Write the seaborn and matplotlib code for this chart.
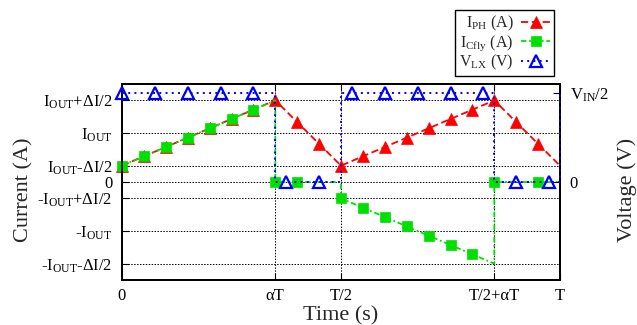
import matplotlib
matplotlib.use("Agg")
import matplotlib.pyplot as plt
from matplotlib.lines import Line2D
import pandas as pd
import seaborn as sns

# Switching period and sample step (time axis in units of T)
PERIOD = 1.0
STEP = PERIOD / 20

# Phase inductor current, one sample per T/20
t_ph = [0, 1, 2, 3, 4, 5, 6, 7, 8, 9, 10, 11, 12, 13, 14, 15, 16, 17, 18, 19, 20]
i_ph = [0.5, 0.786, 1.071, 1.357, 1.643, 1.929, 2.214, 2.5, 1.833, 1.167, 0.5,
        0.786, 1.071, 1.357, 1.643, 1.929, 2.214, 2.5, 1.833, 1.167, 0.5]
ph_marks = list(range(20))

# Flying capacitor current (repeated times = vertical steps)
t_cfly = [0, 1, 2, 3, 4, 5, 6, 7, 7, 8, 9, 10, 10, 11, 12, 13, 14, 15, 16, 17, 17, 18, 19, 20]
i_cfly = [0.5, 0.786, 1.071, 1.357, 1.643, 1.929, 2.214, 2.5, 0, 0, 0, 0, -0.5,
          -0.786, -1.071, -1.357, -1.643, -1.929, -2.214, -2.5, 0, 0, 0, 0]
cfly_marks = [0, 1, 2, 3, 4, 5, 6, 8, 9, 12, 13, 14, 15, 16, 17, 18, 20, 22]

# Switching node voltage (1 = V_IN/2)
t_vlx = [0, 1.5, 3, 4.5, 6, 7, 7, 7.5, 9, 10, 10, 10.5, 12, 13.5, 15, 16.5, 17, 17, 18, 19.5, 20, 20]
v_lx = [1, 1, 1, 1, 1, 1, 0, 0, 0, 0, 1, 1, 1, 1, 1, 1, 1, 0, 0, 0, 0, 1]
vlx_marks = [0, 1, 2, 3, 4, 7, 8, 11, 12, 13, 14, 15, 18, 19]

# Axis ticks
x_ticks = [0, 0.35, 0.5, 0.85, 1.0]
x_labels = ["0", "αT", "T/2", "T/2+αT", "T"]
y_ticks = [2.5, 1.5, 0.5, 0, -0.5, -1.5, -2.5]
y_labels = ["I$_{\\rm OUT}$+ΔI/2", "I$_{\\rm OUT}$", "I$_{\\rm OUT}$-ΔI/2", "0",
            "-I$_{\\rm OUT}$+ΔI/2", "-I$_{\\rm OUT}$", "-I$_{\\rm OUT}$-ΔI/2"]
v_ticks = [1, 0]
v_labels = ["V$_{\\rm IN}$/2", "0"]

series_labels = ["I$_{\\rm PH}$ (A)", "I$_{\\rm Cfly}$ (A)", "V$_{\\rm LX}$ (V)"]

sns.set_theme(style="ticks")
plt.rcParams["font.family"] = ["Liberation Serif", "DejaVu Serif"]
plt.rcParams["mathtext.fontset"] = "custom"
plt.rcParams["mathtext.rm"] = "Liberation Serif"
plt.rcParams["mathtext.it"] = "Liberation Serif:italic"
plt.rcParams["mathtext.bf"] = "Liberation Serif:bold"

RED, GREEN, BLUE = "#ff0000", "#00e000", "#0000ff"
red_style = dict(color=RED, linestyle=(0, (4, 2)), linewidth=1.3, marker="^",
                 markersize=9, markerfacecolor=RED, markeredgecolor=RED, markeredgewidth=0.5)
green_style = dict(color=GREEN, linestyle=(0, (3, 1.5, 1, 1.5)), linewidth=1.3, marker="s",
                   markersize=7, markerfacecolor=GREEN, markeredgecolor=GREEN, markeredgewidth=0.5)
blue_style = dict(color=BLUE, linestyle=(0, (1, 2.2)), linewidth=1.4, marker="^",
                  markersize=9, markerfacecolor="none", markeredgecolor=BLUE, markeredgewidth=1.6)

fig = plt.figure(figsize=(6.37, 3.25), dpi=100)
ax = fig.add_axes([122 / 637, 1 - 280 / 325, 438 / 637, 196 / 325])
ax2 = ax.twinx()

ph = pd.DataFrame({"time": [t * STEP for t in t_ph], "value": i_ph})
cf = pd.DataFrame({"time": [t * STEP for t in t_cfly], "value": i_cfly})
vl = pd.DataFrame({"time": [t * STEP for t in t_vlx], "value": v_lx})

sns.lineplot(data=ph, x="time", y="value", ax=ax, estimator=None, sort=False,
             markevery=ph_marks, clip_on=False, zorder=3, **red_style)
sns.lineplot(data=cf, x="time", y="value", ax=ax, estimator=None, sort=False,
             markevery=cfly_marks, clip_on=False, zorder=4, **green_style)
sns.lineplot(data=vl, x="time", y="value", ax=ax2, estimator=None, sort=False,
             markevery=vlx_marks, clip_on=False, zorder=5, **blue_style)

ax.set_xlim(0, PERIOD)
ax.set_ylim(-3, 3)
ax2.set_ylim(-1.1, 1.1)

ax.set_xticks(x_ticks)
ax.set_xticklabels(x_labels)
ax.set_yticks(y_ticks)
ax.set_yticklabels(y_labels)
ax2.set_yticks(v_ticks)
ax2.set_yticklabels(v_labels)

ax.grid(True, color="black", linestyle=(0, (1.5, 1.5)), linewidth=0.7)
ax.set_axisbelow(True)
ax.tick_params(axis="y", direction="in", length=5, width=0.8, colors="black",
               labelsize=12, pad=7)
ax.tick_params(axis="x", direction="in", length=5, width=0.8, colors="black",
               labelsize=12, pad=6, top=True)
ax2.tick_params(axis="y", direction="in", length=5, width=0.8, colors="black",
                labelsize=12, pad=7)

for a in (ax, ax2):
    for s in a.spines.values():
        s.set_color("black")
        s.set_linewidth(1.3)

ax.set_xlabel("Time (s)", fontsize=16)
ax.set_ylabel("Current (A)", fontsize=16)
ax2.set_ylabel("Voltage (V)", fontsize=16)
ax.xaxis.set_label_coords(0.5, (280 - 316) / 196)
ax.yaxis.set_label_coords((24 - 122) / 438, (280 - 190) / 196)
ax2.yaxis.set_label_coords((627 - 122) / 438, (280 - 190) / 196)
ax.xaxis.label.set_verticalalignment("center")
ax.yaxis.label.set_verticalalignment("center")
ax2.yaxis.label.set_verticalalignment("center")

handles = [Line2D([], [], **red_style), Line2D([], [], **green_style), Line2D([], [], **blue_style)]
fig.legend(handles, series_labels, loc="upper right",
           bbox_to_anchor=(554 / 637, 1 - 10 / 325), markerfirst=False,
           frameon=True, fancybox=False, edgecolor="black", framealpha=1,
           fontsize=11.5, handlelength=1.8, borderpad=0.25, labelspacing=0.0,
           handletextpad=0.5, borderaxespad=0, numpoints=1)

fig.savefig("out.png", dpi=100)
